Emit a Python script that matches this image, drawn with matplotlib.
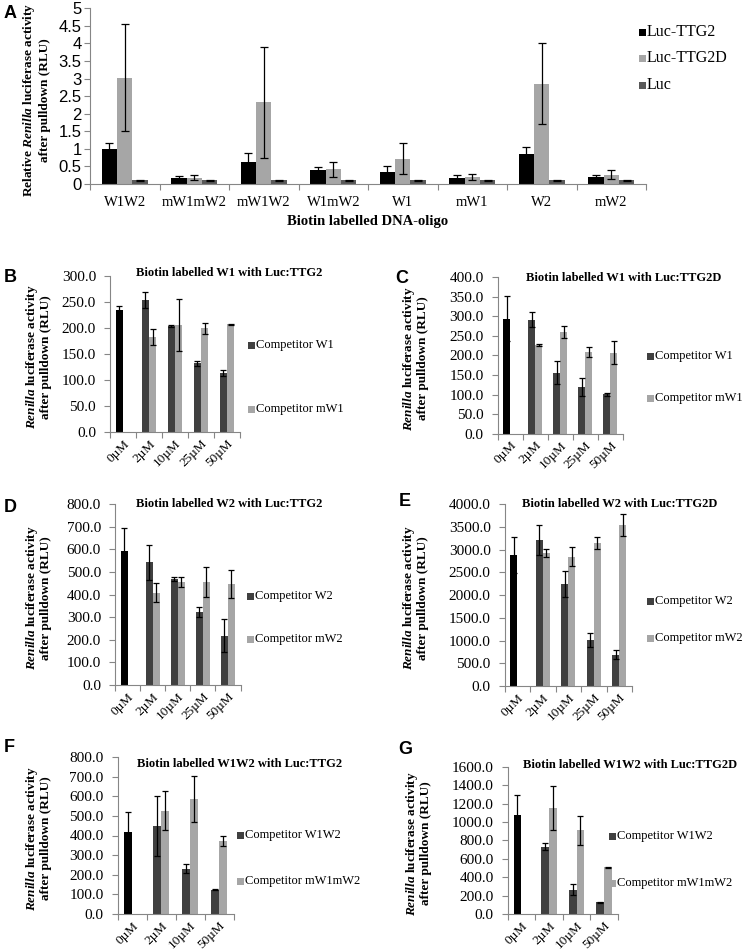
import matplotlib.pyplot as plt
import numpy as np
from matplotlib.patches import Rectangle

plt.rcParams['mathtext.fontset'] = 'custom'
plt.rcParams['mathtext.it'] = 'Liberation Serif:italic:bold'
plt.rcParams['mathtext.rm'] = 'Liberation Serif:bold'
plt.rcParams['mathtext.bf'] = 'Liberation Serif:bold'

# panel A data
a_oligos = ['W1W2', 'mW1mW2', 'mW1W2', 'W1mW2', 'W1', 'mW1', 'W2', 'mW2']
a_ttg2 = [1.0, 0.18, 0.62, 0.39, 0.35, 0.18, 0.86, 0.20]
a_ttg2_err = [0.16, 0.04, 0.26, 0.10, 0.17, 0.07, 0.18, 0.06]
a_ttg2d = [3.03, 0.18, 2.32, 0.42, 0.72, 0.20, 2.85, 0.27]
a_ttg2d_err = [1.51, 0.08, 1.59, 0.22, 0.44, 0.09, 1.15, 0.14]
a_luc = [0.10, 0.10, 0.10, 0.10, 0.10, 0.10, 0.10, 0.10]
a_luc_err = [0.01, 0.01, 0.01, 0.01, 0.01, 0.01, 0.01, 0.01]

# competition panels, concentrations
conc5 = ['0µM', '2µM', '10µM', '25µM', '50µM']
conc4 = ['0µM', '2µM', '10µM', '50µM']

# B: biotin W1, Luc:TTG2
b_ctrl, b_ctrl_err = 235, 7
b_w1 = [253, 203, 132, 113]
b_w1_err = [15, 2, 5, 6]
b_mw1 = [182, 205, 199, 207]
b_mw1_err = [15, 50, 10, 1]

# C: biotin W1, Luc:TTG2D
c_ctrl, c_ctrl_err = 294, 57
c_w1 = [292, 156, 119, 101]
c_w1_err = [18, 29, 23, 4]
c_mw1 = [227, 260, 208, 207]
c_mw1_err = [3, 16, 13, 30]

# D: biotin W2, Luc:TTG2
d_ctrl, d_ctrl_err = 595, 99
d_w2 = [544, 468, 323, 219]
d_w2_err = [78, 9, 22, 72]
d_mw2 = [409, 456, 456, 446]
d_mw2_err = [41, 20, 66, 63]

# E: biotin W2, Luc:TTG2D
e_ctrl, e_ctrl_err = 2885, 400
e_w2 = [3217, 2248, 1006, 688]
e_w2_err = [333, 290, 155, 96]
e_mw2 = [2920, 2848, 3158, 3550]
e_mw2_err = [90, 205, 133, 245]

# F: biotin W1W2, Luc:TTG2
f_ctrl, f_ctrl_err = 417, 105
f_w1w2 = [448, 231, 124]
f_w1w2_err = [152, 24, 1]
f_mw1mw2 = [526, 586, 373]
f_mw1mw2_err = [99, 116, 25]

# G: biotin W1W2, Luc:TTG2D
g_ctrl, g_ctrl_err = 1080, 216
g_w1w2 = [732, 263, 126]
g_w1w2_err = [34, 60, 2]
g_mw1mw2 = [1152, 909, 509]
g_mw1mw2_err = [243, 160, 5]

W, H = 744, 952
fig = plt.figure(figsize=(W / 100, H / 100), dpi=100)

SERIF = 'Liberation Serif'
SANS = 'Liberation Sans'
AXC = '#868686'
DARK = '#404040'
LIGHT = '#a6a6a6'


def add_box(l, t, r, b):
    # axes from pixel edges (top-left origin)
    return fig.add_axes([l / W, 1 - b / H, (r - l) / W, (b - t) / H])


def ftext(x, y, s, **kw):
    return fig.text(x / W, 1 - y / H, s, **kw)


def legend_item(x, y, color, label, size=9):
    fig.add_artist(Rectangle(((x - 3.5) / W, 1 - (y + 3.5) / H), 7 / W, 7 / H,
                             transform=fig.transFigure, color=color, lw=0))
    ftext(x + 5, y, label, va='center', ha='left', family=SERIF, fontsize=size)


def style_axes(ax, n, ymax, step, fmt, yfont, ysize, ypad):
    ax.set_xlim(-0.5, n - 0.5)
    ax.set_ylim(0, ymax)
    for s in ['top', 'right']:
        ax.spines[s].set_visible(False)
    for s in ['left', 'bottom']:
        ax.spines[s].set_color(AXC)
        ax.spines[s].set_linewidth(0.8)
    yt = np.arange(0, ymax + step / 2, step)
    ax.set_yticks(yt)
    ax.set_yticklabels([fmt(v) for v in yt], family=yfont, fontsize=ysize)
    ax.set_xticks(np.arange(-0.5, n), minor=True)
    ax.tick_params(axis='x', which='minor', length=4, color=AXC, width=0.8)
    ax.tick_params(axis='x', which='major', length=0)
    ax.tick_params(axis='y', length=4, color=AXC, width=0.8, pad=ypad)


# ---- panel A ----
ax = add_box(90, 8.3, 646, 184)
x = np.arange(len(a_oligos))
bw = 0.22
ekw = dict(fmt='none', ecolor='black', elinewidth=0.9, capsize=2.6, capthick=0.9)
ax.bar(x - bw, a_ttg2, bw, color='black')
ax.bar(x, a_ttg2d, bw, color=LIGHT)
ax.bar(x + bw, a_luc, bw, color='#595959')
ax.errorbar(x - bw, a_ttg2, yerr=a_ttg2_err, **ekw)
ax.errorbar(x, a_ttg2d, yerr=a_ttg2d_err, **ekw)
ax.errorbar(x + bw, a_luc, yerr=a_luc_err, **ekw)
style_axes(ax, len(a_oligos), 5, 0.5, lambda v: '%g' % v, SANS, 12, 2)
ax.set_xticks(x)
ax.set_xticklabels(a_oligos, family=SERIF, fontsize=10.5)
ax.tick_params(axis='x', which='major', pad=9)
ftext(368, 222, 'Biotin labelled DNA-oligo', ha='center', va='center',
      family=SERIF, fontweight='bold', fontsize=10.5)
ftext(36, 100, 'Relative $\\mathit{Renilla}$ luciferase activity\nafter pulldown (RLU)',
      rotation=90, ha='center', va='center', family=SERIF, fontweight='bold',
      fontsize=9.5, linespacing=1.25, multialignment='center')
legend_item(642, 32, 'black', 'Luc-TTG2', 11.5)
legend_item(642, 58, LIGHT, 'Luc-TTG2D', 11.5)
legend_item(642, 85, '#595959', 'Luc', 11.5)
ftext(10, 14, 'A', ha='center', va='center', family=SANS, fontweight='bold', fontsize=13)

ekw2 = dict(fmt='none', ecolor='black', elinewidth=0.9, capsize=2.2, capthick=0.9)


def comp_panel(rect, concs, ctrl, ctrl_err, s1, e1, s2, e2, ymax, step,
               title, title_xy, leg_labels, leg_x, leg_y, ylab_x, letter, letter_xy):
    ax = add_box(*rect)
    n = len(concs)
    x = np.arange(n)
    bw = 0.28
    # control bar sits in the first slot of the 0uM group
    ax.bar(x[0] - bw / 2, ctrl, bw, color='black')
    ax.errorbar(x[0] - bw / 2, ctrl, yerr=ctrl_err, **ekw2)
    ax.bar(x[1:] - bw / 2, s1, bw, color=DARK)
    ax.bar(x[1:] + bw / 2, s2, bw, color=LIGHT)
    ax.errorbar(x[1:] - bw / 2, s1, yerr=e1, **ekw2)
    ax.errorbar(x[1:] + bw / 2, s2, yerr=e2, **ekw2)
    style_axes(ax, n, ymax, step, lambda v: '%.1f' % v, SERIF, 11, 6)
    ax.set_xticks(x)
    ax.set_xticklabels(concs, family=SERIF, fontsize=9.5, rotation=45,
                       ha='right', va='top', rotation_mode='anchor')
    ax.tick_params(axis='x', which='major', pad=4)
    ftext(title_xy[0], title_xy[1], title, ha='center', va='center', family=SERIF,
          fontweight='bold', fontsize=9)
    legend_item(leg_x, leg_y[0], DARK, leg_labels[0])
    legend_item(leg_x, leg_y[1], LIGHT, leg_labels[1])
    cy = (rect[1] + rect[3]) / 2 + 3
    ftext(ylab_x, cy, '$\\mathit{Renilla}$ luciferase activity\nafter pulldown (RLU)',
          rotation=90, ha='center', va='center', family=SERIF, fontweight='bold',
          fontsize=9.5, linespacing=1.1, multialignment='center')
    ftext(letter_xy[0], letter_xy[1], letter, ha='center', va='center', family=SANS,
          fontweight='bold', fontsize=13)
    return ax


comp_panel((110, 275.7, 240, 432), conc5, b_ctrl, b_ctrl_err, b_w1, b_w1_err,
           b_mw1, b_mw1_err, 300, 50, 'Biotin labelled W1 with Luc:TTG2', (229, 273),
           ['Competitor W1', 'Competitor mW1'], 251, (345, 409), 38, 'B', (10, 277))
comp_panel((497.5, 277.3, 623, 433.7), conc5, c_ctrl, c_ctrl_err, c_w1, c_w1_err,
           c_mw1, c_mw1_err, 400, 50, 'Biotin labelled W1 with Luc:TTG2D', (624, 278),
           ['Competitor W1', 'Competitor mW1'], 650, (356, 398), 415, 'C', (402, 278))
comp_panel((115, 504.3, 240.5, 685), conc5, d_ctrl, d_ctrl_err, d_w2, d_w2_err,
           d_mw2, d_mw2_err, 800, 100, 'Biotin labelled W2 with Luc:TTG2', (229, 504),
           ['Competitor W2', 'Competitor mW2'], 250, (596, 639), 38, 'D', (10, 508))
comp_panel((504.5, 504.3, 632, 686), conc5, e_ctrl, e_ctrl_err, e_w2, e_w2_err,
           e_mw2, e_mw2_err, 4000, 500, 'Biotin labelled W2 with Luc:TTG2D', (620, 504),
           ['Competitor W2', 'Competitor mW2'], 650, (601, 638), 415, 'E', (405, 501))
comp_panel((117.5, 757, 233.5, 914), conc4, f_ctrl, f_ctrl_err, f_w1w2, f_w1w2_err,
           f_mw1mw2, f_mw1mw2_err, 800, 100, 'Biotin labelled W1W2 with Luc:TTG2', (240, 764),
           ['Competitor W1W2', 'Competitor mW1mW2'], 240, (835, 881), 38, 'F', (9, 748))
comp_panel((507.5, 766.7, 618, 914), conc4, g_ctrl, g_ctrl_err, g_w1w2, g_w1w2_err,
           g_mw1mw2, g_mw1mw2_err, 1600, 200, 'Biotin labelled W1W2 with Luc:TTG2D', (630, 765),
           ['Competitor W1W2', 'Competitor mW1mW2'], 612, (836, 883), 418, 'G', (405, 750))

fig.savefig('out.png', dpi=100)
